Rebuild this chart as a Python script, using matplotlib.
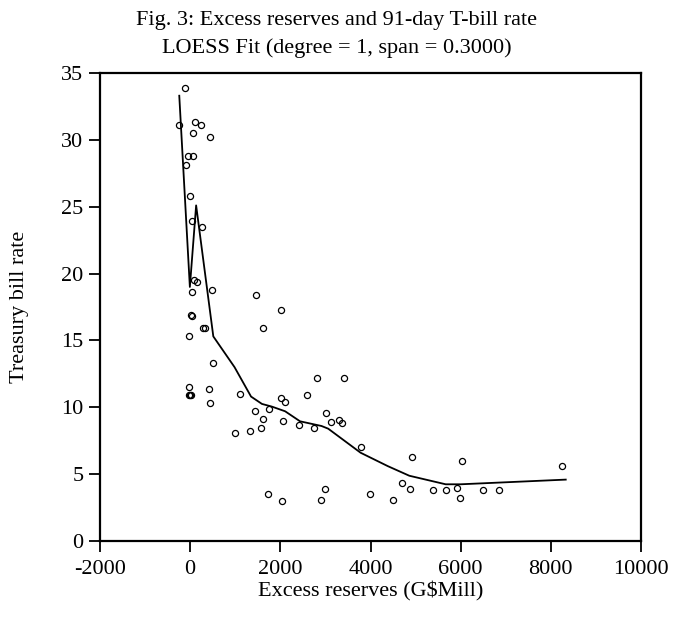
import matplotlib.pyplot as plt

# excess reserves (G$ mill) vs 91-day treasury bill rate (%)
reserves = [-110, -258, 117, 242, 66, 433, -51, 66, -88, -7, 37, 271,
            88, 161, 51, 484, 1460, 2004, 15, 30, 280, 320, 1623, -29,
            500, 2819, 3420, -29, 412, -25, -5, 12, 1101, 2583, 2019,
            2114, 433, 1747, 1438, 3002, 1607, 2055, 3310, 3362, 3120,
            2415, 2752, 1563, 1321, 984, 3794, 2988, 1724, 3992, 2891,
            2041, 4918, 6027, 8250, 4690, 4874, 4492, 5380, 5667, 5917,
            5974, 6502, 6848]
tbill = [33.9, 31.1, 31.3, 31.1, 30.5, 30.2, 28.8, 28.8, 28.1, 25.8, 23.9, 23.5,
         19.5, 19.4, 18.6, 18.8, 18.4, 17.3, 16.9, 16.8, 15.9, 15.9, 15.9, 15.3,
         13.3, 12.2, 12.2, 11.5, 11.4, 10.9, 10.95, 10.9, 11.0, 10.9, 10.7,
         10.4, 10.3, 9.9, 9.7, 9.6, 9.1, 9.0, 9.05, 8.85, 8.9,
         8.7, 8.45, 8.45, 8.2, 8.05, 7.0, 3.87, 3.5, 3.5, 3.1,
         2.97, 6.3, 6.0, 5.6, 4.34, 3.87, 3.04, 3.84, 3.79, 3.96,
         3.24, 3.79, 3.81]

# LOESS fit (degree 1, span 0.3)
fit_x = [-242, -7, 132, 513, 984, 1350, 1592, 1812, 2106, 2437, 2913,
         3061, 3780, 4382, 4860, 5667, 5997, 8330]
fit_y = [33.3, 19.0, 25.1, 15.3, 13.0, 10.8, 10.25, 10.05, 9.7, 8.95, 8.6,
         8.4, 6.6, 5.6, 4.88, 4.24, 4.24, 4.59]

xticks = [-2000, 0, 2000, 4000, 6000, 8000, 10000]
yticks = [0, 5, 10, 15, 20, 25, 30, 35]

plt.rcParams['font.family'] = 'Liberation Serif'
plt.rcParams['font.size'] = 16
plt.rcParams['axes.unicode_minus'] = False

fig = plt.figure(figsize=(6.73, 6.17), dpi=100)
ax = fig.add_axes([0.1486, 0.1232, 0.8039, 0.7585])

ax.plot(reserves, tbill, 'o', mfc='none', mec='black', ms=4.4, mew=0.9)
ax.plot(fit_x, fit_y, color='black', lw=1.3)

ax.set_xlim(-2000, 10000)
ax.set_ylim(0, 35)
ax.set_xticks(xticks)
ax.set_yticks(yticks)
ax.tick_params(direction='out', length=8, width=1.3)
ax.tick_params(axis='x', pad=6)
ax.tick_params(axis='y', pad=4)
for s in ax.spines.values():
    s.set_linewidth(1.6)

fig.text(0.5, 1 - 20 / 617, 'Fig. 3: Excess reserves and 91-day T-bill rate',
         ha='center', va='center')
fig.text(0.5, 1 - 48 / 617, 'LOESS Fit (degree = 1, span = 0.3000)',
         ha='center', va='center')
fig.text(371 / 673, 1 - 591 / 617, 'Excess reserves (G$Mill)',
         ha='center', va='center')
fig.text(20 / 673, 1 - 307 / 617, 'Treasury bill rate', rotation=90,
         ha='center', va='center')

plt.savefig('out.png')
